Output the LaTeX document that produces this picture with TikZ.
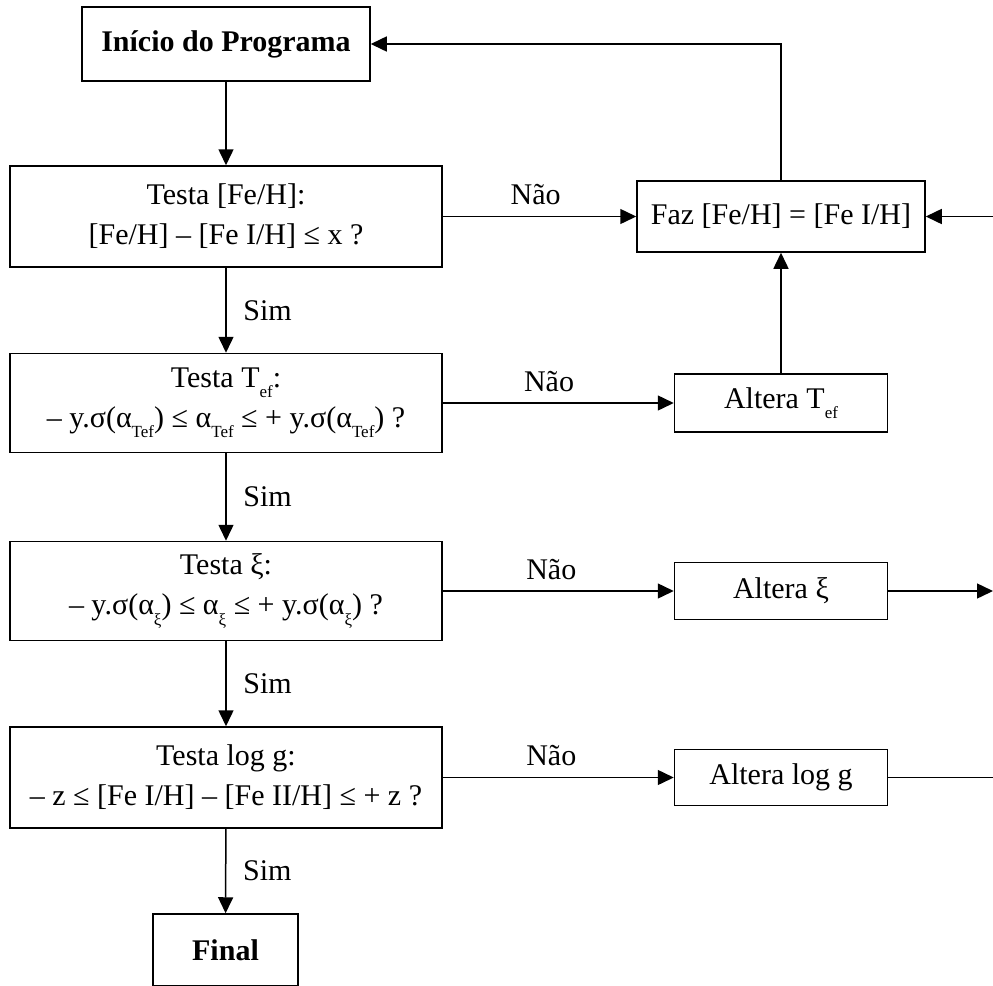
\documentclass[tikz,border=0pt]{standalone}
\usepackage{fontspec}
\setmainfont{Liberation Serif}
\usetikzlibrary{arrows.meta}
\newcommand{\indice}[1]{\raisebox{-0.75ex}{\fontsize{8.5}{9}\selectfont #1}}
\begin{document}
\begin{tikzpicture}[x=0.5pt,y=-0.5pt,
  caixa/.style={draw, line width=0.75pt, align=center, inner sep=0pt, font=\fontsize{15}{20}\selectfont},
  negrito/.style={font=\fontsize{15}{20}\selectfont\bfseries},
  seta/.style={draw, line width=0.75pt, -{Triangle[length=8pt,width=7.5pt]}},
  linha/.style={draw, line width=0.75pt},
  rotulo/.style={font=\fontsize{15}{16}\selectfont}]
\useasboundingbox (0,0) rectangle (993,986);
\node[caixa, negrito, minimum width=144pt, minimum height=37pt] (inicio) at (226,44) {Início do Programa};
\node[caixa, minimum width=216pt, minimum height=50.5pt] (testaFe) at (226,216.5) {Testa [Fe/H]:\\{}[Fe/H] – [Fe I/H] ≤ x ?};
\node[caixa, minimum width=216pt, minimum height=49.5pt] (testaT) at (226,403) {Testa T\indice{ef}:\\ – y.σ(α\indice{Tef}) ≤ α\indice{Tef} ≤ + y.σ(α\indice{Tef}) ?};
\node[caixa, minimum width=216pt, minimum height=49.5pt] (testaXi) at (226,591) {Testa ξ:\\ – y.σ(α\indice{ξ}) ≤ α\indice{ξ} ≤ + y.σ(α\indice{ξ}) ?};
\node[caixa, minimum width=216pt, minimum height=50.5pt] (testaG) at (226,777.5) {Testa log g:\\ – z ≤ [Fe I/H] – [Fe II/H] ≤ + z ?};
\node[caixa, negrito, minimum width=72.5pt, minimum height=36pt] (final) at (225.5,950) {Final};
\node[caixa, minimum width=144pt, minimum height=35.5pt] (faz) at (781,216.5) {Faz [Fe/H] = [Fe I/H]};
\node[caixa, minimum width=106.5pt, minimum height=29pt] (alteraT) at (781,403) {Altera T\indice{ef}};
\node[caixa, minimum width=106.5pt, minimum height=28.5pt] (alteraXi) at (781,591) {Altera ξ};
\node[caixa, minimum width=106.5pt, minimum height=28pt] (alteraG) at (781,777.5) {Altera log g};
\coordinate (entraFaz) at (993,216.5);
\coordinate (saiXi) at (993,591);
\coordinate (saiG) at (993,777.5);
% coluna principal
\path[seta] (inicio) -- (testaFe);
\path[seta] (testaFe) -- node[rotulo, right=5pt] {Sim} (testaT);
\path[seta] (testaT) -- node[rotulo, right=5pt] {Sim} (testaXi);
\path[seta] (testaXi) -- node[rotulo, right=5pt] {Sim} (testaG);
\path[seta] (testaG) -- node[rotulo, right=5pt] {Sim} (final);
% ramos Nao
\path[seta] (testaFe.east) -- node[rotulo, above=2pt, pos=0.48] {Não} (faz.west);
\path[seta] (testaT.east) -- node[rotulo, above=2pt, pos=0.46] {Não} (alteraT.west);
\path[seta] (testaXi.east) -- node[rotulo, above=2pt, pos=0.47] {Não} (alteraXi.west);
\path[seta] (testaG.east) -- node[rotulo, above=2pt, pos=0.47] {Não} (alteraG.west);
% retornos
\path[seta] (alteraT) -- (faz);
\path[seta] (faz.north) |- (inicio.east);
\path[seta] (entraFaz) -- (faz.east);
\path[seta] (alteraXi.east) -- (saiXi);
\path[linha] (alteraG.east) -- (saiG);
\end{tikzpicture}
\end{document}
